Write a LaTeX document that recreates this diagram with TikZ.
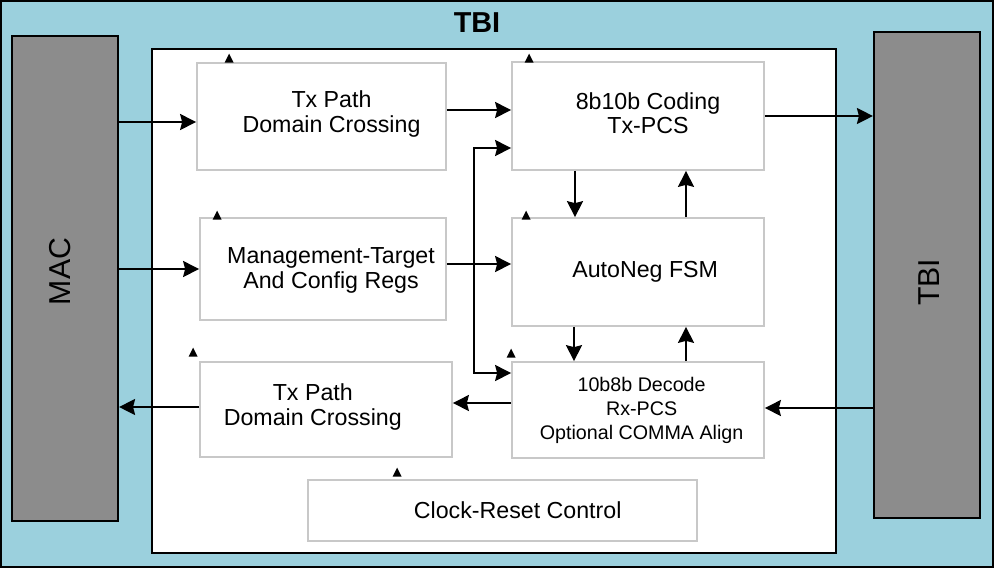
\documentclass[tikz,border=0pt]{standalone}
\usepackage{fontspec}
\setmainfont{Liberation Sans}
\usetikzlibrary{arrows.meta,calc}
\definecolor{tbiblue}{RGB}{155,208,221}
\definecolor{macgray}{RGB}{140,140,140}
\definecolor{blkgray}{RGB}{200,200,200}

\begin{document}
\begin{tikzpicture}[x=0.025cm,y=-0.025cm,>={Stealth[length=4mm,width=4mm,inset=0.5mm]},
  blk/.style={draw=blkgray, line width=1.2pt, fill=white, inner sep=0pt},
  txt/.style={font=\fontsize{16.5}{17.5}\selectfont, align=center},
  smalltxt/.style={font=\fontsize{14}{17}\selectfont, align=center},
  sidetxt/.style={font=\fontsize{21.5}{24}\selectfont},
  side/.style={draw=black, line width=1.5pt, fill=macgray, inner sep=0pt, minimum width=2.65cm},
  sig/.style={->, line width=1.4pt}]
  \useasboundingbox (0,0) rectangle (994,568);
  % Frame
  \fill[tbiblue, draw=black, line width=1.5pt] (1,1) rectangle (993,567);
  \node[draw, line width=1.5pt, fill=white, inner sep=0pt, minimum width=17.1cm, minimum height=12.6cm] (core) at (494,301) {};
  \node[font=\fontsize{20.5}{24}\selectfont\bfseries] (title) at (477,23) {TBI};
  % Nodes
  \node[side, minimum height=12.125cm, label={[sidetxt, xshift=-0.125cm, yshift=0.175cm, rotate=90]center:MAC}] (mac) at (65,278.5) {};
  \node[side, minimum height=12.15cm, label={[sidetxt, xshift=0.06cm, yshift=-0.18cm, rotate=90]center:TBI}] (tbi) at (927,275) {};
  \node[blk, minimum width=6.225cm, minimum height=2.675cm, label={[txt, xshift=0.25cm, yshift=0.07cm]center:Tx Path\\Domain Crossing}] (txcross) at (321.5,116.5) {};
  \node[blk, minimum width=6.3cm, minimum height=2.7cm, label={[txt, xshift=0.25cm, yshift=0.07cm]center:8b10b Coding\\Tx-PCS}] (enc) at (638,116) {};
  \node[blk, minimum width=6.15cm, minimum height=2.55cm, label={[txt, xshift=0.2cm, yshift=-0.03cm]center:Management-Target\\And Config Regs}] (mgmt) at (323,269) {};
  \node[blk, minimum width=6.3cm, minimum height=2.7cm, label={[txt, xshift=0.18cm]center:AutoNeg FSM}] (aneg) at (638,272) {};
  \node[blk, minimum width=6.3cm, minimum height=2.4cm, label={[smalltxt, xshift=0.09cm]center:10b8b Decode\\Rx-PCS\\Optional COMMA Align}] (dec) at (638,410) {};
  \node[blk, minimum width=6.3cm, minimum height=2.375cm, label={[txt, xshift=-0.33cm, yshift=0.07cm]center:Tx Path\\Domain Crossing}] (rxcross) at (326,409.5) {};
  \node[blk, minimum width=9.725cm, minimum height=1.525cm, label={[txt, xshift=0.38cm]center:Clock-Reset Control}] (clkrst) at (502.5,510.5) {};
  % Clock marks
  \foreach \b/\dx/\dy in {txcross/33/-4, enc/18/-3, mgmt/18/-2, aneg/15/-2, dec/0/-8, rxcross/-6/-9, clkrst/90/-7}
    \fill ($(\b.north west)+(\dx,\dy)$) ++(-4.5,4.5) -- ++(9,0) -- ++(-4.5,-9) -- cycle;
  % Edges
  \coordinate (inTx) at ($(txcross.west)+(0,5.5)$);
  \draw[sig] (mac.east |- inTx) -- (inTx);
  \coordinate (inEnc) at ($(enc.west)+(0,-6)$);
  \draw[sig] (txcross.east |- inEnc) -- (inEnc);
  \draw[sig] (enc.east) -- (enc.east -| tbi.west);
  \draw[sig] (mac.east |- mgmt.west) -- (mgmt.west);
  \coordinate (inAn) at ($(aneg.west)+(0,-8)$);
  \draw[sig] (mgmt.east |- inAn) -- (inAn);
  \coordinate (bus) at ($(mgmt.east)+(27,-5)$);
  \draw[sig] (bus) |- ($(enc.west)+(0,32)$);
  \draw[sig] (bus) |- ($(dec.west)+(0,-37)$);
  \draw[sig] ($(enc.south)+(-63,0)$) -- ($(aneg.north)+(-63,0)$);
  \draw[sig] ($(aneg.north)+(48,0)$) -- ($(enc.south)+(48,0)$);
  \draw[sig] ($(aneg.south)+(-64,0)$) -- ($(dec.north)+(-64,0)$);
  \draw[sig] ($(dec.north)+(48,0)$) -- ($(aneg.south)+(48,0)$);
  \coordinate (outDec) at ($(dec.west)+(0,-7)$);
  \draw[sig] (outDec) -- (rxcross.east |- outDec);
  \coordinate (outRx) at ($(rxcross.west)+(0,-2.5)$);
  \draw[sig] (outRx) -- (mac.east |- outRx);
  \coordinate (inDec) at ($(dec.east)+(0,-2)$);
  \draw[sig] (tbi.west |- inDec) -- (inDec);
\end{tikzpicture}
\end{document}
